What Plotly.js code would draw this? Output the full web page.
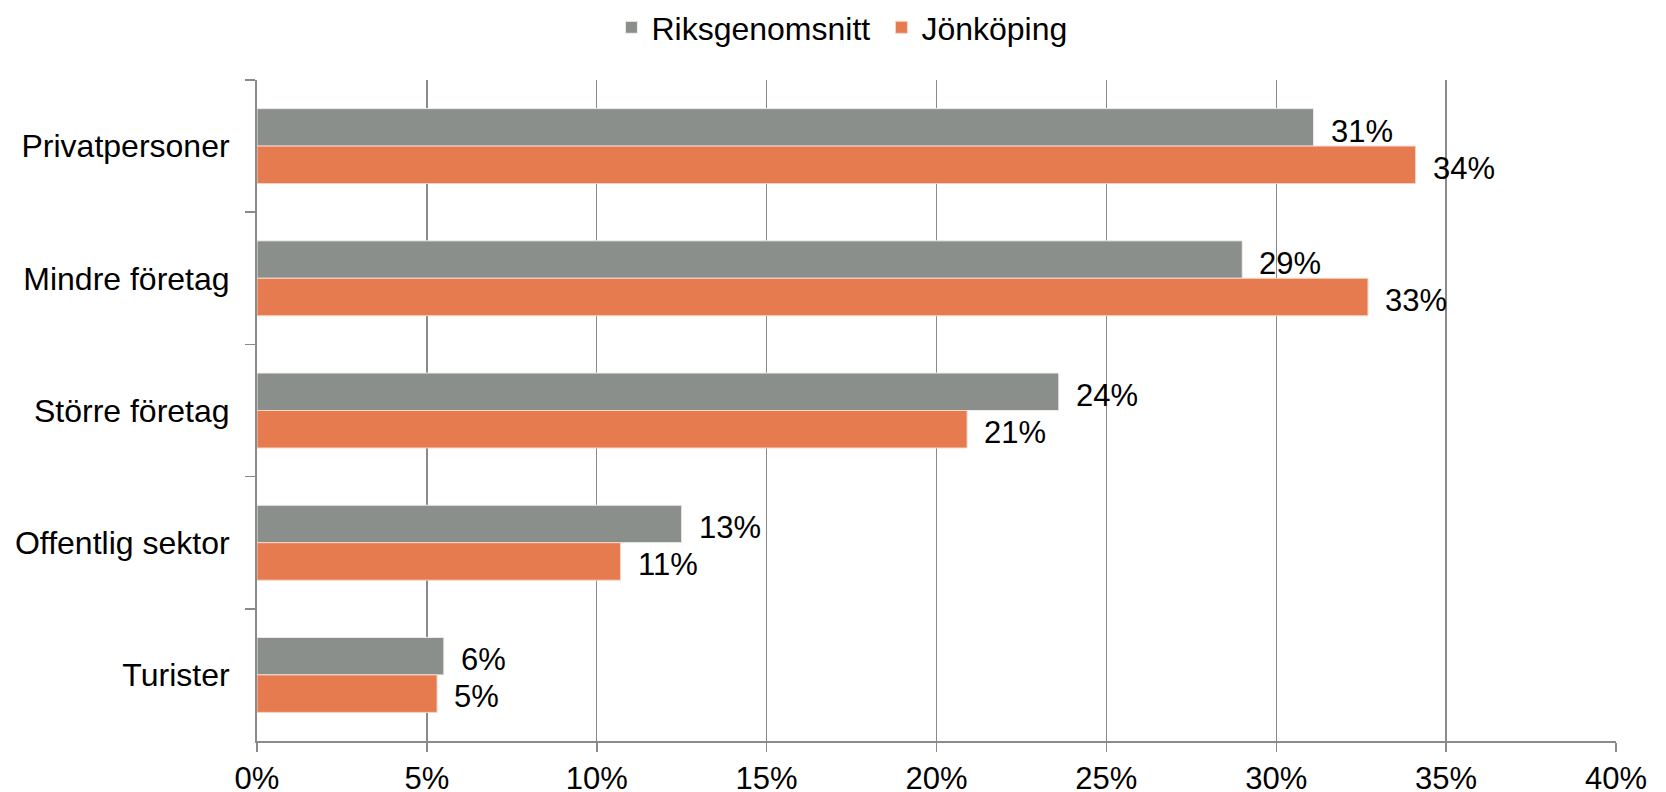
<!DOCTYPE html>
<html>
<head>
<meta charset="utf-8">
<script src="https://cdn.plot.ly/plotly-3.0.1.min.js"></script>
<style>html,body{margin:0;padding:0;background:#fff}#chart{width:1666px;height:792px}</style>
</head>
<body>
<div id="chart"></div>
<script>
const categories = ["Privatpersoner", "Mindre företag", "Större företag", "Offentlig sektor", "Turister"];
const seriesNames = ["Riksgenomsnitt", "Jönköping"];
const riksValues = [31.1, 29.0, 23.6, 12.5, 5.5];
const jonkopingValues = [34.1, 32.7, 20.9, 10.7, 5.3];
const riksLabels = ["31%", "29%", "24%", "13%", "6%"];
const jonkopingLabels = ["34%", "33%", "21%", "11%", "5%"];
const xTickVals = [0, 5, 10, 15, 20, 25, 30, 35, 40];
const xTickText = ["0%", "5%", "10%", "15%", "20%", "25%", "30%", "35%", "40%"];

const grey = "#8B8F8C";
const orange = "#E67B4F";
const fontFam = "'Liberation Sans', Arial, sans-serif";

const traces = [
  {type: "bar", orientation: "h", name: seriesNames[0], y: categories, x: riksValues,
   marker: {color: grey, line: {color: "#eeeeee", width: 1}}, hoverinfo: "x+y"},
  {type: "bar", orientation: "h", name: seriesNames[1], y: categories, x: jonkopingValues,
   marker: {color: orange, line: {color: "#f5d5c8", width: 1}}, hoverinfo: "x+y"}
];

const annotations = [];
categories.forEach((c, i) => {
  annotations.push({x: riksValues[i], y: c, xref: "x", yref: "y", text: riksLabels[i],
    showarrow: false, xanchor: "left", yanchor: "middle", xshift: 15, yshift: 15,
    font: {family: fontFam, size: 31, color: "#000"}});
  annotations.push({x: jonkopingValues[i], y: c, xref: "x", yref: "y", text: jonkopingLabels[i],
    showarrow: false, xanchor: "left", yanchor: "middle", xshift: 15, yshift: -22,
    font: {family: fontFam, size: 31, color: "#000"}});
});

const layout = {
  width: 1666, height: 792,
  margin: {l: 257, r: 50, t: 80, b: 51},
  paper_bgcolor: "#fff", plot_bgcolor: "#fff",
  font: {family: fontFam, size: 31, color: "#000"},
  barmode: "group", bargap: 0.433, bargroupgap: 0,
  showlegend: true,
  legend: {orientation: "h", xref: "container", yref: "container", x: 0.367, xanchor: "left",
           y: 1, yanchor: "top", font: {family: fontFam, size: 32, color: "#000"},
           entrywidth: 225, entrywidthmode: "pixels",
           itemclick: false, bgcolor: "rgba(0,0,0,0)", tracegroupgap: 0},
  xaxis: {range: [0, 40], tickvals: xTickVals, ticktext: xTickText, showgrid: true,
          gridcolor: "#8a8a8a", gridwidth: 1.3, zeroline: false, showline: true,
          linecolor: "#8a8a8a", linewidth: 2, ticks: "outside", ticklen: 9, tickwidth: 1.5,
          tickcolor: "#8a8a8a", fixedrange: true, automargin: false},
  yaxis: {type: "category", autorange: "reversed", showgrid: false, zeroline: false,
          showline: true, linecolor: "#8a8a8a", linewidth: 2, ticks: "outside", tickson: "boundaries",
          ticklen: 10, tickwidth: 1.5, tickcolor: "#8a8a8a", ticklabelstandoff: 19,
          tickfont: {family: fontFam, size: 32, color: "#000"},
          fixedrange: true, automargin: false},
  annotations: annotations
};

Plotly.newPlot("chart", traces, layout, {displayModeBar: false, staticPlot: true});
</script>
</body>
</html>
